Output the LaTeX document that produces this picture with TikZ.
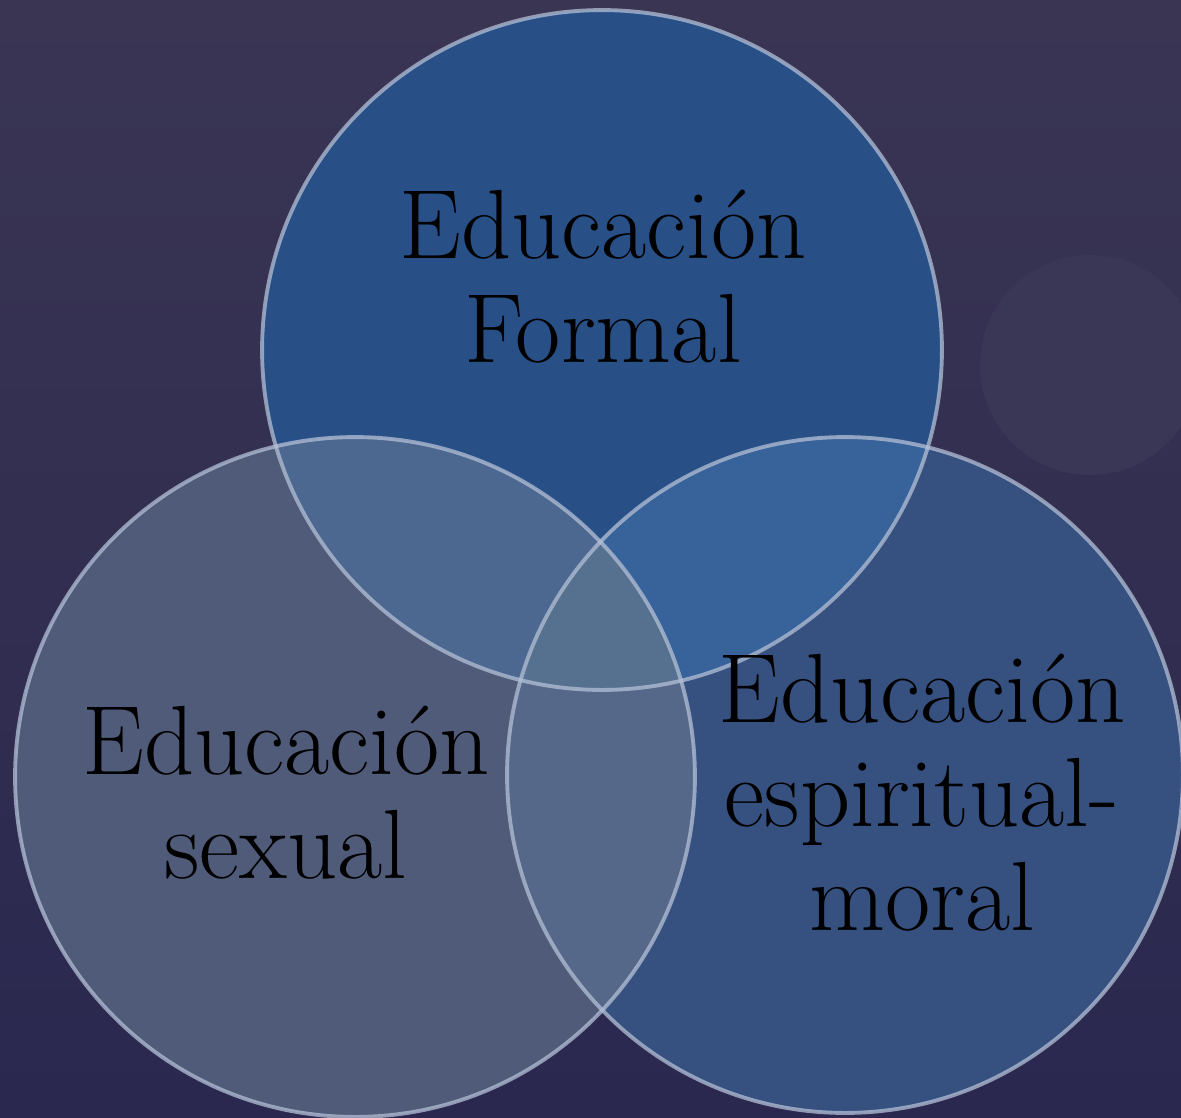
\documentclass[tikz,border=0pt]{standalone}
\usepackage{tikz}
\usetikzlibrary{calc}
\usepackage{xcolor}

\definecolor{bgtop}{HTML}{3A3553}
\definecolor{bgbot}{HTML}{2A284F}
\definecolor{bokeh}{HTML}{3A3656}
\definecolor{cformal}{HTML}{285087}
\definecolor{csexual}{HTML}{4F5B79}
\definecolor{cmoral}{HTML}{36507F}
\definecolor{cfs}{HTML}{4C6890}
\definecolor{cfm}{HTML}{37629A}
\definecolor{csm}{HTML}{55688A}
\definecolor{call}{HTML}{56708F}
\definecolor{rim}{HTML}{B4C0D6}

\tikzset{
	rimline/.style={draw=rim, line width=2.2pt, draw opacity=.75},
	lbl/.style={align=center, text=black, anchor=base,
		font=\fontsize{56}{59}\selectfont},
}

\begin{document}
\begin{tikzpicture}[x=0.02cm, y=-0.02cm]
\useasboundingbox (0,0) rectangle (1181,1117);
\shade[top color=bgtop, bottom color=bgbot] (0,0) rectangle (1181,1117);
\fill[bokeh] (1090,365) circle[radius=2.2cm];

\coordinate (formal) at (602,350);
\coordinate (sexual) at (355,777);
\coordinate (moral) at (845,775);

% circles
\fill[cformal] (formal) circle[radius=6.8cm];
\fill[csexual] (sexual) circle[radius=6.8cm];
\fill[cmoral] (moral) circle[radius=6.76cm];

% overlaps
\begin{scope}
	\clip (formal) circle[radius=6.8cm];
	\fill[cfs] (sexual) circle[radius=6.8cm];
	\fill[cfm] (moral) circle[radius=6.76cm];
\end{scope}
\begin{scope}
	\clip (sexual) circle[radius=6.8cm];
	\fill[csm] (moral) circle[radius=6.76cm];
	\clip (moral) circle[radius=6.76cm];
	\fill[call] (formal) circle[radius=6.8cm];
\end{scope}

\draw[rimline] (formal) circle[radius=6.8cm];
\draw[rimline] (sexual) circle[radius=6.8cm];
\draw[rimline] (moral) circle[radius=6.76cm];

\node[lbl] (tformal) at (603,362) {Educación\\Formal};
\node[lbl] (tsexual) at (286,878) {Educación\\sexual};
\node[lbl] (tmoral) at (922,930) {Educación\\espiritual-\\moral};
\end{tikzpicture}
\end{document}
